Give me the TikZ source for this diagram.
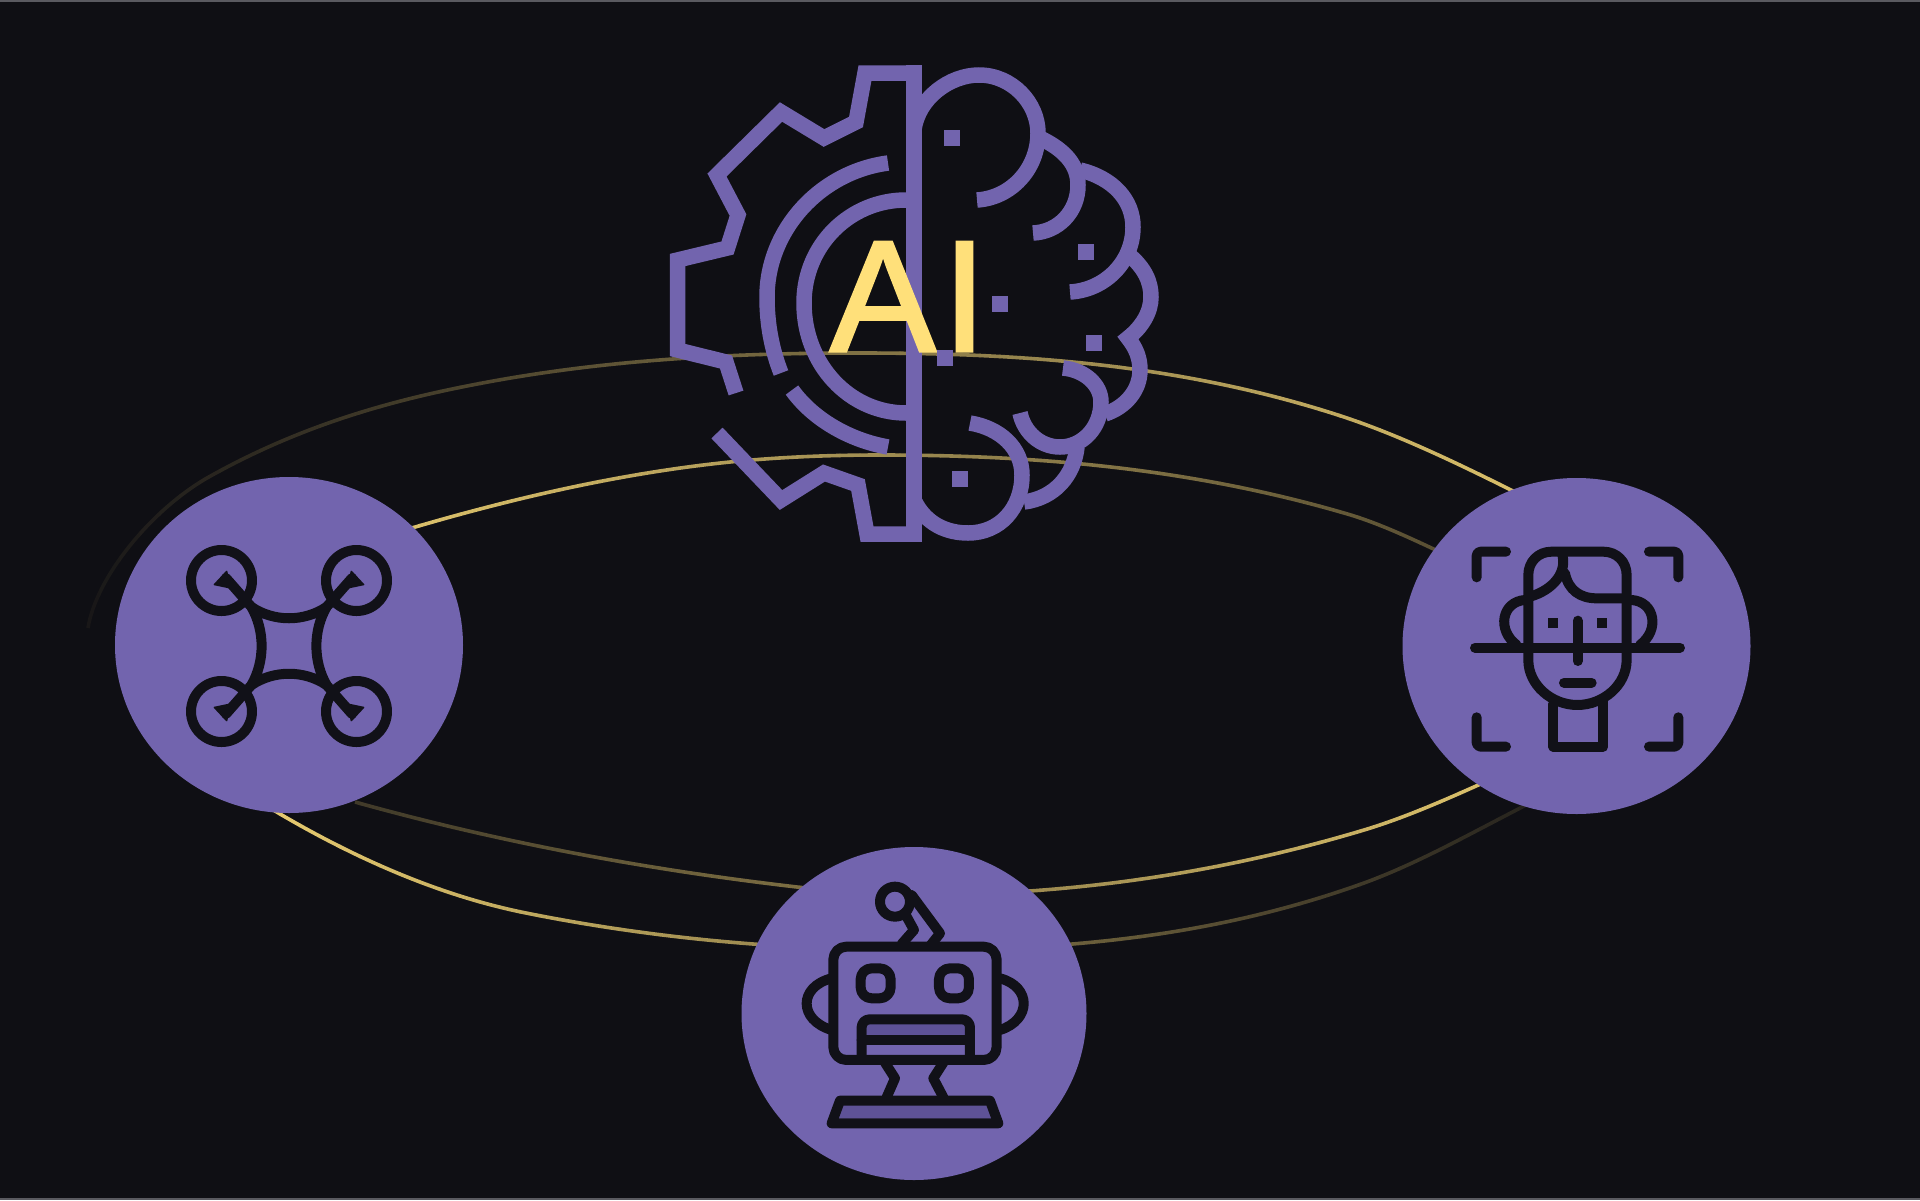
\documentclass[tikz,border=0pt]{standalone}
\usepackage{fontspec}
\setmainfont{Liberation Sans}
\newfontfamily\aifont[FakeBold=2]{Liberation Sans}
\usetikzlibrary{shapes.geometric}
\definecolor{bg}{HTML}{0F0F14}
\definecolor{violet}{HTML}{7264AE}
\definecolor{gold}{HTML}{FFE07A}
\definecolor{ink}{HTML}{111118}
\definecolor{deep}{HTML}{5E5297}
\definecolor{edgegrey}{HTML}{5A5A60}
\tikzset{
  hub/.style={ellipse,fill=violet,minimum width=348pt,minimum height=336pt,inner sep=0pt},
  logo/.style={draw=violet,line width=15.5pt,line join=miter},
  iconline/.style={draw=ink,line width=10pt,line cap=round,line join=round},
  dot/.style={fill=violet}
}
% #1 x start, #2 x end, #3 strength at start, #4 strength at end, #5 path
\newcommand\ringarc[5]{%
  \pgfmathtruncatemacro\sxn{#1+20}%
  \foreach \sx in {#1,\sxn,...,#2}{%
    \pgfmathsetmacro\tm{#3+(#4-#3)/(#2-#1)*(\sx-#1)}%
    \begin{scope}
      \clip (\sx-0.3,300) rectangle (\sx+20.3,1000);
      \draw[draw={gold!\tm!bg},line width=3.6pt] #5;
    \end{scope}
  }%
}
\begin{document}
\begin{tikzpicture}[x=1pt,y=-1pt]
\useasboundingbox (0,0) rectangle (1920,1200);
\fill[bg] (0,0) rectangle (1920,1200);
\fill[edgegrey] (0,0) rectangle (1920,2);
\fill[edgegrey] (0,1197.5) rectangle (1920,1200);

% rings
\ringarc{80}{1520}{4}{85}{(88,628) .. controls (96,578) and (150,511) .. (207,478) .. controls (292,430) and (377,404) .. (462,387) .. controls (595,360) and (727,353) .. (860,353) .. controls (1021,353) and (1183,364) .. (1344,417) .. controls (1404,437) and (1465,467) .. (1525,497)}
\ringarc{400}{1440}{85}{30}{(405,530) .. controls (513,498) and (622,473) .. (730,462) .. controls (780,457) and (830,455) .. (880,455) .. controls (1035,455) and (1189,468) .. (1344,513) .. controls (1376,522) and (1408,537) .. (1440,552)}
\ringarc{260}{1520}{90}{10}{(270,808) .. controls (355,859) and (441,896) .. (526,913) .. controls (656,939) and (785,950) .. (915,950) .. controls (1065,950) and (1214,937) .. (1364,883) .. controls (1419,863) and (1475,831) .. (1530,803)}
\ringarc{340}{1480}{20}{85}{(355,802) .. controls (502,843) and (650,870) .. (797,887) .. controls (836,891.5) and (876,895) .. (915,895) .. controls (1065,895) and (1214,875) .. (1364,830) .. controls (1404,818) and (1445,800) .. (1485,782)}

% gear half
\draw[logo] (914,73) -- (865,73) -- (856,122) -- (824,138) -- (781,112) -- (717,175) -- (738,215) -- (727.5,248) -- (677.5,260) -- (677.5,350) -- (726,362) -- (736,393);
\draw[logo] (717,433) -- (781,500) -- (824,473) -- (858,485) -- (867,534) -- (914,534);
\draw[logo] (888,163) .. controls (820,172) and (767,230) .. (767,297) .. controls (767,325) and (772,350) .. (781,373);
\draw[logo] (792,390) .. controls (812,418) and (848,440) .. (888,447);
\draw[logo] (906,200) .. controls (850,200) and (804,245) .. (804,303) .. controls (804,365) and (850,413) .. (906,413);
% brain half
\draw[logo] (914,130) .. controls (918,98) and (950,75) .. (979,75) .. controls (1012,75) and (1038,103) .. (1038,133) .. controls (1038,170) and (1010,198) .. (977,200);
\draw[logo] (1040,138) .. controls (1065,150) and (1078,165) .. (1078,185) .. controls (1078,212) and (1058,232) .. (1033,233);
\draw[logo] (1080,170) .. controls (1113,178) and (1133,200) .. (1133,227) .. controls (1133,262) and (1105,290) .. (1070,292);
\draw[logo] (1128,254) .. controls (1145,268) and (1151,282) .. (1151,297) .. controls (1151,312) and (1142,327) .. (1128,338) .. controls (1136,348) and (1140,358) .. (1140,370) .. controls (1140,390) and (1126,407) .. (1105,414);
\draw[logo] (1063,368) .. controls (1085,370) and (1101,385) .. (1101,402) .. controls (1101,428) and (1082,447) .. (1060,447) .. controls (1040,447) and (1024,432) .. (1020,413);
\draw[logo] (1077,447) .. controls (1074,475) and (1055,498) .. (1024,502);
\draw[logo] (970,423) .. controls (1000,428) and (1022,448) .. (1022,475) .. controls (1022,508) and (1000,533) .. (968,533) .. controls (948,533) and (926,525) .. (914,500);

% centre bar
\fill[violet] (906,65) rectangle (922,542);
% AI label
\node[text=gold,font=\aifont\fontsize{158pt}{158pt}\selectfont,inner sep=0pt,anchor=base west] (ai) at (830,351) {A\kern7pt I};
% dots
\foreach \dx/\dy in {952/138,1086/252,1000/304,1094/343,945/358,960/479}
  \fill[dot] (\dx-8,\dy-8) rectangle (\dx+8,\dy+8);

% hubs
\node[hub] (drone) at (289,645) {};
\node[hub] (face) at (1576.5,646) {};
\node[hub,minimum width=345pt,minimum height=333pt] (robot) at (914,1013.5) {};

% drone icon
\begin{scope}[shift={(289,646)}]
\foreach \sgx/\sgy in {1/1,-1/1,1/-1,-1/-1}{
  \begin{scope}[xscale=\sgx,yscale=\sgy]
    \draw[iconline] (-67.5,-65.5) circle[radius=30.5];
    \draw[iconline] (-37.5,-39) -- (-63,-68);
    \fill[ink,rounded corners=1pt] (-62,-76) -- (-76,-61) -- (-57,-57) -- cycle;
  \end{scope}
}
\draw[iconline] (-37.5,-39) .. controls (-15,-24) and (15,-24) .. (37.5,-39)
  .. controls (24,-15) and (24,15) .. (37.5,39)
  .. controls (15,24) and (-15,24) .. (-37.5,39)
  .. controls (-24,15) and (-24,-15) .. (-37.5,-39) -- cycle;
\end{scope}

% face icon
\begin{scope}[shift={(1390,460)},x=.3333pt,y=-.3333pt]
\draw[iconline,rounded corners=4pt] (260,352) -- (260,275) -- (348,275);
\draw[iconline,rounded corners=4pt] (777,275) -- (865,275) -- (865,352);
\draw[iconline,rounded corners=4pt] (260,772) -- (260,860) -- (348,860);
\draw[iconline,rounded corners=4pt] (777,860) -- (865,860) -- (865,772);
\draw[iconline] (255,563) -- (870,563);
\draw[iconline] (415,600) -- (415,345) .. controls (415,305) and (445,275) .. (485,275) -- (640,275) .. controls (680,275) and (710,305) .. (710,345) -- (710,600) .. controls (710,675) and (640,735) .. (562,735) .. controls (485,735) and (415,675) .. (415,600) -- cycle;
\draw[iconline] (515,278) .. controls (535,335) and (490,390) .. (420,410);
\draw[iconline] (525,340) .. controls (535,390) and (570,415) .. (620,415) -- (710,415);
\draw[iconline] (405,420) .. controls (335,425) and (320,510) .. (380,555);
\draw[iconline] (725,420) .. controls (795,425) and (810,510) .. (750,555);
\fill[ink] (475,475) rectangle (505,505);
\fill[ink] (622,475) rectangle (652,505);
\draw[iconline] (563,482) -- (563,603);
\draw[iconline] (522,668) -- (605,668);
\draw[iconline] (490,732) -- (490,860) -- (640,860) -- (640,722);
\end{scope}

% robot icon
\begin{scope}[shift={(730,840)},x=.3333pt,y=-.3333pt]
\fill[deep] (410,550) rectangle (705,595);
\fill[deep] (335,795) -- (775,795) -- (790,835) -- (320,835) -- cycle;
\draw[iconline,rounded corners=13pt] (310,320) rectangle (800,660);
\draw[iconline,rounded corners=11pt] (392,385) rectangle (482,475);
\draw[iconline,rounded corners=11pt] (627,385) rectangle (717,475);
\draw[iconline,rounded corners=8pt] (395,660) -- (395,538) -- (720,538) -- (720,660);
\draw[iconline] (395,600) -- (720,600);
\draw[iconline] (305,415) .. controls (205,440) and (205,540) .. (305,570);
\draw[iconline] (810,415) .. controls (905,440) and (905,540) .. (810,570);
\draw[iconline] (495,185) circle[radius=45];
\draw[iconline] (530,230) -- (552,270) -- (515,312);
\draw[iconline] (545,165) -- (630,280) -- (600,318);
\draw[iconline] (465,668) -- (495,715) -- (470,772);
\draw[iconline] (640,668) -- (610,715) -- (640,772);
\draw[iconline] (330,782) -- (780,782) -- (805,850) -- (305,850) -- cycle;
\end{scope}
\end{tikzpicture}
\end{document}
